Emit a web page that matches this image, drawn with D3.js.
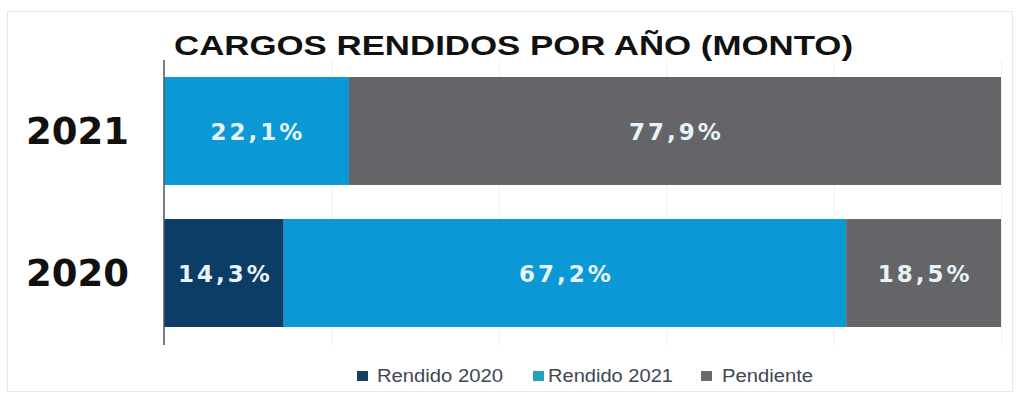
<!DOCTYPE html>
<html>
<head>
<meta charset="utf-8">
<script src="https://cdn.jsdelivr.net/npm/d3@7"></script>
<style>
  html, body { margin: 0; padding: 0; background: #ffffff; }
  svg { display: block; }
</style>
</head>
<body>
<svg id="chart" width="1017" height="396"></svg>
<script>
// Years shown as rows, and the share of each status per year (percent of amount)
const years = ["2021", "2020"];
const seriesNames = ["Rendido 2020", "Rendido 2021", "Pendiente"];
const rendido2020 = [0, 14.3];
const rendido2021 = [22.1, 67.2];
const pendiente = [77.9, 18.5];
const xTicks = [0, 20, 40, 60, 80, 100];
const titleText = "CARGOS RENDIDOS POR AÑO (MONTO)";

const colors = ["#0c3d66", "#0a99d5", "#656468"];
const legendColors = ["#173f5c", "#1fa3bd", "#6a6a6a"];

// legend layout: left edge of each swatch and the width its label spreads over
const legendLayout = [
  { x: 357, gap: 20, w: 126 },
  { x: 533, gap: 15, w: 125 },
  { x: 701, gap: 21, w: 91 }
];

const rows = years.map((yr, i) => ({
  year: yr,
  "Rendido 2020": rendido2020[i],
  "Rendido 2021": rendido2021[i],
  "Pendiente": pendiente[i]
}));

const svg = d3.select("#chart");

// panel frame
svg.append("rect")
  .attr("x", 7.5).attr("y", 11.5)
  .attr("width", 1005).attr("height", 380)
  .attr("fill", "#ffffff")
  .attr("stroke", "#e9e9e9");

const x = d3.scaleLinear().domain([0, 100]).range([164, 1001]);
const y = d3.scaleBand().domain(years).range([77, 327]).paddingInner(0.24).paddingOuter(0);

// faint vertical gridlines
const grid = svg.append("g")
  .attr("transform", "translate(0,345)")
  .call(d3.axisBottom(x).tickValues(xTicks).tickSize(-285).tickFormat(""));
grid.select(".domain").remove();
grid.selectAll(".tick line").attr("stroke", "#eef0f2").attr("stroke-width", 1);

// stacked bars
const stack = d3.stack().keys(seriesNames);
const layers = stack(rows);

const locale = d3.formatLocale({ decimal: ",", thousands: ".", grouping: [3], currency: ["", ""] });
const fmt = locale.format(".1f");

const layerG = svg.append("g").selectAll("g")
  .data(layers)
  .join("g")
  .attr("fill", (d, i) => colors[i]);

layerG.selectAll("rect")
  .data(d => d.filter(s => s[1] - s[0] > 0))
  .join("rect")
  .attr("x", d => x(d[0]))
  .attr("y", d => y(d.data.year))
  .attr("width", d => x(d[1]) - x(d[0]))
  .attr("height", y.bandwidth());

// value labels inside each segment
layerG.selectAll("text")
  .data(d => d.filter(s => s[1] - s[0] > 0))
  .join("text")
  .attr("x", d => (x(d[0]) + x(d[1])) / 2 + 1.5)
  .attr("y", d => y(d.data.year) + y.bandwidth() / 2 + 1)
  .attr("text-anchor", "middle")
  .attr("dominant-baseline", "central")
  .attr("fill", "#e6f3fa")
  .attr("font-family", "DejaVu Sans, Verdana, sans-serif")
  .attr("font-weight", "bold")
  .attr("font-size", 23)
  .attr("letter-spacing", 3)
  .text(d => fmt(d[1] - d[0]) + "%");

// category axis on the left
const yAxis = svg.append("g")
  .attr("transform", "translate(164,0)")
  .call(d3.axisLeft(y).tickSize(0).tickPadding(35));
yAxis.select(".domain").remove();
yAxis.append("line")
  .attr("x1", 0).attr("x2", 0)
  .attr("y1", 60).attr("y2", 345)
  .attr("stroke", "#555555").attr("stroke-width", 1.5);
yAxis.selectAll(".tick text")
  .attr("fill", "#111111")
  .attr("font-family", "DejaVu Sans, Verdana, sans-serif")
  .attr("font-weight", "bold")
  .attr("font-size", 37)
  .attr("dy", "0.35em");

// title
svg.append("text")
  .attr("x", 174)
  .attr("y", 55)
  .attr("fill", "#111111")
  .attr("font-family", "Liberation Sans, Arial, sans-serif")
  .attr("font-weight", "bold")
  .attr("font-size", 28)
  .attr("textLength", 679)
  .attr("lengthAdjust", "spacingAndGlyphs")
  .text(titleText);

// legend
const legend = svg.append("g").selectAll("g")
  .data(seriesNames)
  .join("g")
  .attr("transform", (d, i) => `translate(${legendLayout[i].x},376)`);
legend.append("rect")
  .attr("x", 0).attr("y", -5)
  .attr("width", 11).attr("height", 10)
  .attr("fill", (d, i) => legendColors[i]);
legend.append("text")
  .attr("x", (d, i) => legendLayout[i].gap)
  .attr("y", 0)
  .attr("dominant-baseline", "central")
  .attr("fill", "#3e4752")
  .attr("font-family", "Liberation Sans, Arial, sans-serif")
  .attr("font-size", 18)
  .attr("textLength", (d, i) => legendLayout[i].w)
  .attr("lengthAdjust", "spacingAndGlyphs")
  .text(d => d);
</script>
</body>
</html>
